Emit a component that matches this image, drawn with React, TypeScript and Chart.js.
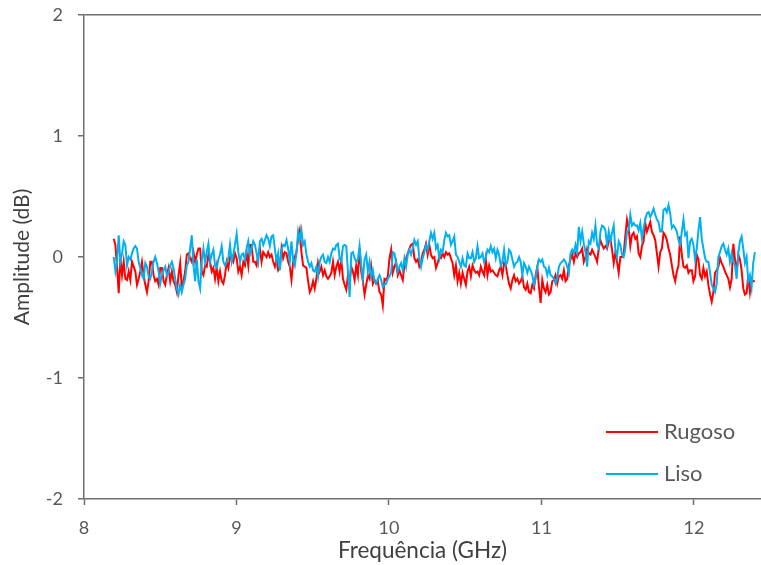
import React, { useEffect, useRef } from "react";
import { Chart, registerables } from "chart.js";

Chart.register(...registerables);

// Sweep frequency range (GHz) of the measured traces
const FREQ_START = 8.195;
const FREQ_END = 12.4;

const X_TICKS = [8, 9, 10, 11, 12];
const Y_TICKS = [-2, -1, 0, 1, 2];
const SERIES_NAMES = ["Rugoso", "Liso"];

// Amplitude (dB) – Rugoso
const RUGOSO = [
  0.15, 0.10, -0.09, -0.30, -0.01, -0.15, -0.04, -0.18, -0.19, -0.12,
  -0.19, -0.04, -0.08, -0.12, -0.23, -0.18, -0.12, -0.04, -0.15, -0.23,
  -0.29, -0.20, -0.04, -0.04, -0.15, -0.20, -0.18, -0.23, -0.09, -0.09,
  -0.20, -0.23, -0.15, -0.09, -0.20, -0.12, -0.20, -0.23, -0.29, -0.15,
  -0.05, -0.26, -0.20, -0.12, 0.02, 0.03, -0.01, -0.04, 0.04, -0.04,
  0.02, 0.07, 0.07, -0.12, -0.15, -0.07, -0.08, 0.02, -0.04, -0.12,
  -0.09, -0.18, -0.08, -0.20, -0.12, -0.20, -0.22, -0.15, -0.04, -0.09,
  0.00, -0.01, -0.04, 0.03, -0.01, -0.12, -0.08, -0.15, -0.04, -0.07,
  0.04, -0.07, 0.10, 0.10, -0.04, -0.04, -0.07, 0.02, 0.07, -0.04,
  0.04, 0.02, 0.00, 0.04,
  0.00, 0.02, -0.04, -0.08, -0.02, -0.11, -0.09, 0.07, -0.01, 0.04,
  0.03, -0.04, -0.08, -0.19, -0.04, 0.00, 0.04, 0.15, 0.22, 0.04,
  -0.07, -0.08, -0.09, -0.20, -0.29, -0.26, -0.20, -0.26, -0.18, -0.05,
  -0.12, -0.08, -0.15, -0.11, -0.16, -0.18, -0.16, -0.13, -0.04, -0.15,
  -0.08, -0.04, -0.12, -0.02, -0.18, -0.23, -0.27, -0.15, -0.20, -0.08,
  -0.12, -0.19, -0.07, -0.15, 0.07, -0.12, -0.20, -0.31, -0.23, -0.15,
  -0.18, -0.08, -0.22, -0.19, -0.22, -0.20, -0.29, -0.31, -0.40, -0.18,
  -0.19, -0.16, -0.01, 0.06, -0.13, -0.08, -0.04, -0.15, -0.11, -0.15,
  -0.19, -0.07, -0.01, 0.03, 0.07, 0.10, 0.11, -0.01, -0.04, -0.02,
  -0.08, -0.05, 0.03, 0.06, 0.11, 0.02, 0.10, 0.02, -0.01,
  0.00, -0.09, -0.05, 0.00, -0.01, 0.03, 0.00, 0.04, 0.02, 0.03,
  -0.01, -0.05, -0.15, -0.07, -0.20, -0.13, -0.22, -0.13, -0.18, -0.23,
  -0.12, -0.08, -0.16, -0.07, -0.11, -0.13, -0.12, -0.15, -0.08, -0.12,
  -0.15, -0.02, -0.15, -0.07, -0.12, -0.11, -0.13, -0.15, -0.16, -0.11,
  -0.08, -0.15, -0.05, -0.07, -0.15, -0.22, -0.26, -0.19, -0.15, -0.20,
  -0.18, -0.22, -0.20, -0.16, -0.25, -0.27, -0.22, -0.29, -0.30, -0.23,
  -0.26, -0.15, -0.08, -0.25, -0.38, -0.19, -0.26, -0.29, -0.23, -0.31,
  -0.29, -0.20, -0.19, -0.15, -0.22, -0.16, -0.15, -0.18, -0.11, -0.20,
  -0.18, -0.07, -0.02, 0.02, -0.04, 0.03, 0.00, 0.03, 0.04, 0.07,
  -0.04, 0.00, 0.07, 0.03, 0.02, 0.06,
  0.03, 0.00, -0.04, 0.07, 0.14, 0.10, 0.07, 0.09, 0.07, 0.13,
  0.15, 0.06, -0.05, 0.04, -0.04, -0.13, 0.00, 0.00, 0.02, 0.18,
  0.31, 0.24, 0.09, 0.18, 0.20, 0.15, 0.17, 0.03, 0.00, 0.09,
  0.13, 0.28, 0.21, 0.25, 0.29, 0.21, 0.18, 0.14, 0.03, -0.08,
  0.04, 0.07, 0.20, 0.18, 0.14, 0.07, 0.02, -0.07, -0.15, -0.20,
  -0.12, -0.07, 0.17, 0.02, -0.08, -0.09, -0.07, -0.13, -0.11, -0.11,
  -0.20, -0.16, 0.02, -0.02, -0.15, -0.18, -0.09, -0.16, -0.12, -0.23,
  -0.31, -0.37, -0.29, -0.13, -0.11, -0.08, -0.01, -0.05, -0.08, -0.12,
  -0.15, -0.18, -0.25, -0.18, 0.11, -0.02, -0.12, 0.02, -0.02, -0.11,
  -0.26, -0.31, -0.30, -0.15, -0.29, -0.18, -0.20, -0.20,
];

// Amplitude (dB) – Liso
const LISO = [
  0.00, -0.12, -0.04, 0.18, -0.04, 0.03, 0.13, 0.10, -0.07, 0.00,
  -0.02, 0.03, 0.07, 0.09, 0.07, -0.04, -0.09, -0.15, -0.18, -0.05,
  -0.08, -0.16, -0.18, -0.12, -0.04, 0.00, -0.05, -0.12, -0.22, -0.15,
  -0.11, -0.08, -0.15, -0.13, -0.07, -0.04, -0.09, -0.18, -0.26, -0.31,
  -0.23, -0.29, -0.23, -0.18, -0.07, -0.04, 0.07, 0.18, -0.07, -0.20,
  -0.02, -0.20, -0.26, -0.04, 0.07, -0.04, 0.04, 0.11, -0.04, 0.02,
  0.06, -0.07, -0.09, -0.02, 0.02, 0.09, -0.04, -0.07, -0.04, -0.01,
  0.10, -0.04, 0.02, 0.10, 0.19, 0.04, -0.04, 0.02, 0.03, -0.02,
  0.07, 0.13, 0.02, 0.07, 0.13, 0.10, 0.03, -0.04, 0.13, 0.15,
  0.10, 0.14, 0.18, 0.15,
  0.09, 0.17, 0.18, 0.07, -0.04, 0.03, -0.11, 0.06, 0.10, 0.09,
  0.14, 0.07, -0.04, 0.13, -0.02, -0.07, 0.03, 0.21, 0.14, 0.22,
  0.10, 0.13, 0.02, -0.04, -0.08, -0.05, -0.11, -0.12, -0.08, -0.16,
  -0.04, 0.00, 0.02, -0.04, -0.05, 0.00, -0.04, 0.03, 0.07, 0.06,
  0.10, 0.11, -0.01, -0.04, 0.09, 0.10, 0.09, -0.12, -0.33, 0.03,
  0.04, -0.01, -0.04, -0.02, 0.09, -0.07, -0.18, -0.02, 0.02, -0.12,
  -0.04, -0.16, -0.11, -0.20, -0.22, -0.18, -0.15, -0.19, -0.25, -0.23,
  -0.22, -0.18, -0.16, -0.13, 0.04, 0.03, -0.05, -0.12, -0.08, -0.05,
  -0.11, -0.01, -0.08, 0.02, 0.06, 0.02, 0.07, 0.14, 0.10, 0.13,
  -0.01, -0.08, -0.01, 0.04, 0.10, 0.06, 0.13, 0.20, 0.15,
  0.20, 0.07, 0.10, -0.01, 0.06, 0.04, 0.14, 0.20, 0.17, 0.18,
  0.10, 0.13, 0.17, 0.02, 0.00, -0.04, -0.08, -0.01, -0.07, -0.08,
  0.03, -0.01, -0.01, 0.04, -0.04, -0.01, 0.09, -0.01, 0.00, 0.03,
  -0.04, 0.00, 0.06, 0.04, 0.09, 0.04, 0.07, -0.01, 0.06, 0.02,
  -0.07, -0.04, 0.06, -0.07, -0.04, 0.06, 0.04, -0.02, -0.08, -0.05,
  -0.04, 0.00, -0.04, -0.15, -0.05, -0.08, -0.13, -0.08, -0.11, -0.15,
  -0.23, -0.18, -0.08, -0.02, -0.04, -0.02, -0.08, -0.09, -0.15, -0.09,
  -0.15, -0.16, -0.18, -0.22, -0.18, -0.08, -0.05, -0.04, -0.02, -0.04,
  -0.08, -0.13, 0.03, 0.06, 0.03, 0.10, 0.04, 0.25, 0.13, 0.21,
  0.11, 0.04, -0.08, 0.13, 0.11, 0.20,
  0.15, 0.26, 0.10, 0.07, 0.21, 0.26, 0.25, 0.22, 0.10, 0.21,
  0.13, 0.20, 0.26, 0.06, 0.00, 0.13, 0.10, 0.02, 0.00, 0.07,
  0.21, 0.22, 0.35, 0.26, 0.28, 0.26, 0.26, 0.22, 0.28, 0.15,
  0.24, 0.31, 0.36, 0.37, 0.33, 0.36, 0.40, 0.35, 0.31, 0.29,
  0.21, 0.21, 0.39, 0.40, 0.37, 0.43, 0.36, 0.24, 0.26, 0.24,
  0.21, 0.14, 0.10, 0.21, 0.31, 0.18, 0.20, -0.01, 0.13, 0.15,
  0.10, -0.02, 0.07, 0.22, 0.33, 0.15, 0.07, -0.01, -0.04, -0.04,
  -0.13, -0.23, -0.26, -0.29, -0.22, 0.00, 0.04, 0.09, 0.11, 0.06,
  0.02, 0.07, -0.04, 0.03, -0.04, -0.07, -0.18, 0.03, 0.13, 0.17,
  0.07, -0.05, 0.00, -0.20, -0.15, -0.25, -0.05, 0.04,
];

const RED = "#FF0000";
const BLUE = "#00B0F0";
const TEXT = "#595959";
const TITLE = "#404040";
const AXIS = "#6f6f6f";
const FONT = "Lato, 'Open Sans', sans-serif";

function toPoints(values: number[]) {
  const n = values.length;
  const step = (FREQ_END - FREQ_START) / (n - 1);
  return values.map((v, i) => ({ x: FREQ_START + i * step, y: v }));
}

const legendPlugin = {
  id: "customLegend",
  afterDraw(chart: any) {
    const ctx = chart.ctx;
    const items = [
      { name: SERIES_NAMES[0], color: RED, y: 432 },
      { name: SERIES_NAMES[1], color: BLUE, y: 474 },
    ];
    ctx.save();
    ctx.font = `22px ${FONT}`;
    ctx.fillStyle = TEXT;
    ctx.textAlign = "left";
    ctx.textBaseline = "middle";
    for (const it of items) {
      ctx.strokeStyle = it.color;
      ctx.lineWidth = 2;
      ctx.beginPath();
      ctx.moveTo(606, it.y);
      ctx.lineTo(658, it.y);
      ctx.stroke();
      ctx.fillText(it.name, 664, it.y);
    }
    ctx.restore();
  },
};

export default function App() {
  const ref = useRef<HTMLCanvasElement | null>(null);

  useEffect(() => {
    const canvas = ref.current;
    if (!canvas) return;
    const chart = new Chart(canvas, {
      type: "line",
      data: {
        datasets: [
          {
            label: SERIES_NAMES[0],
            data: toPoints(RUGOSO),
            borderColor: RED,
            backgroundColor: RED,
            borderWidth: 2,
            pointRadius: 0,
            tension: 0,
            order: 1,
          },
          {
            label: SERIES_NAMES[1],
            data: toPoints(LISO),
            borderColor: BLUE,
            backgroundColor: BLUE,
            borderWidth: 2,
            pointRadius: 0,
            tension: 0,
            order: 0,
          },
        ],
      },
      options: {
        responsive: false,
        animation: false,
        devicePixelRatio: 1,
        layout: { padding: { top: 15, right: 0, left: 0, bottom: 0 } },
        plugins: {
          legend: { display: false },
          tooltip: { enabled: false },
        },
        scales: {
          x: {
            type: "linear",
            min: 8,
            max: 12.44,
            afterBuildTicks: (s: any) => {
              s.ticks = X_TICKS.map((v) => ({ value: v }));
            },
            afterFit: (s: any) => {
              s.height = 66;
              s.paddingLeft = 0;
              s.paddingRight = 0;
            },
            grid: {
              drawOnChartArea: false,
              tickLength: 6,
              tickColor: AXIS,
              tickWidth: 1.5,
            },
            border: { color: AXIS, width: 1.5 },
            ticks: {
              color: TEXT,
              font: { family: FONT, size: 18 },
              padding: 12,
              maxRotation: 0,
              autoSkip: false,
            },
            title: {
              display: true,
              text: "Frequência (GHz)",
              color: TITLE,
              font: { family: FONT, size: 22.5 },
              padding: { top: 0, bottom: 1 },
            },
          },
          y: {
            type: "linear",
            min: -2,
            max: 2,
            afterBuildTicks: (s: any) => {
              s.ticks = Y_TICKS.map((v) => ({ value: v }));
            },
            afterFit: (s: any) => {
              s.width = 84;
              s.paddingTop = 0;
              s.paddingBottom = 0;
            },
            grid: {
              color: (c: any) =>
                c.tick && c.tick.value === 2 ? AXIS : "rgba(0,0,0,0)",
              lineWidth: 1.5,
              tickLength: 6,
              tickColor: AXIS,
              tickWidth: 1.5,
            },
            border: { color: AXIS, width: 1.5 },
            ticks: {
              color: TEXT,
              font: { family: FONT, size: 18 },
              padding: 15,
            },
            title: {
              display: true,
              text: "Amplitude (dB)",
              color: TITLE,
              font: { family: FONT, size: 21 },
              padding: { top: 10, bottom: 0 },
            },
          },
        },
      },
      plugins: [legendPlugin],
    });
    return () => chart.destroy();
  }, []);

  return (
    <div style={{ position: "absolute", left: 0, top: 0, width: 761, height: 565, background: "#fff" }}>
      <canvas ref={ref} width={761} height={565} style={{ display: "block", width: 761, height: 565 }} />
    </div>
  );
}
